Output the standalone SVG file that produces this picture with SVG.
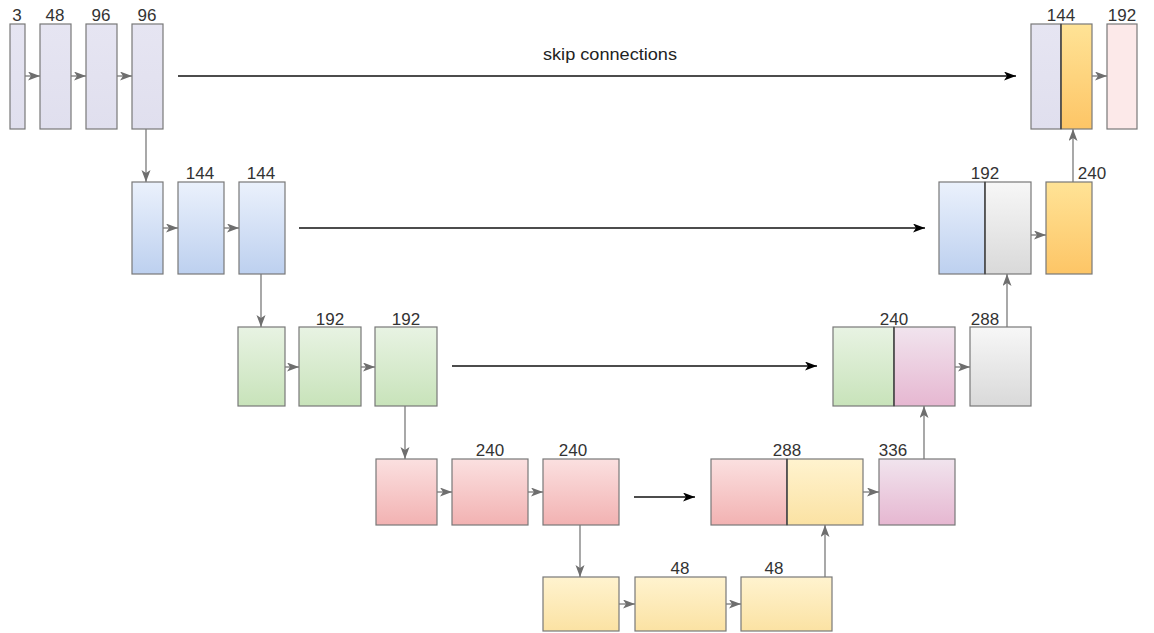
<svg xmlns="http://www.w3.org/2000/svg" width="1154" height="633" viewBox="0 0 1154 633">
  <style>
    .box { stroke: #787878; stroke-width: 1.2; }
    .split { stroke: #333; stroke-width: 1.2; }
    .lbl { font-family: "Liberation Sans", Arial, sans-serif; font-size: 17px; fill: #333; text-anchor: middle; }
    .link { stroke: #7a7a7a; stroke-width: 1.3; fill: none; marker-end: url(#gh); }
    .skip { stroke: #111; stroke-width: 1.3; fill: none; marker-end: url(#bh); }
  </style>
  <defs>
    <marker id="gh" markerUnits="userSpaceOnUse" markerWidth="13" markerHeight="10" refX="12" refY="4.5" orient="auto">
      <path d="M0,0 L12,4.5 L0,9 L3,4.5 z" fill="#6e6e6e"/>
    </marker>
    <marker id="bh" markerUnits="userSpaceOnUse" markerWidth="13" markerHeight="10" refX="12" refY="4.5" orient="auto">
      <path d="M0,0 L12,4.5 L0,9 L3,4.5 z" fill="#000"/>
    </marker>
    <linearGradient id="gLav" x1="0" y1="0" x2="0" y2="1"><stop offset="0" stop-color="#e6e5f2"/><stop offset="1" stop-color="#e0dfee"/></linearGradient>
    <linearGradient id="gBlue" x1="0" y1="0" x2="0" y2="1"><stop offset="0" stop-color="#ebf1fc"/><stop offset="1" stop-color="#bdd0ef"/></linearGradient>
    <linearGradient id="gGreen" x1="0" y1="0" x2="0" y2="1"><stop offset="0" stop-color="#e8f3e3"/><stop offset="1" stop-color="#c8e3ba"/></linearGradient>
    <linearGradient id="gRed" x1="0" y1="0" x2="0" y2="1"><stop offset="0" stop-color="#fbe0e0"/><stop offset="1" stop-color="#f2b2b2"/></linearGradient>
    <linearGradient id="gPink" x1="0" y1="0" x2="0" y2="1"><stop offset="0" stop-color="#f1e4ee"/><stop offset="1" stop-color="#e6b7d1"/></linearGradient>
    <linearGradient id="gGray" x1="0" y1="0" x2="0" y2="1"><stop offset="0" stop-color="#f7f7f7"/><stop offset="1" stop-color="#d9d9d9"/></linearGradient>
    <linearGradient id="gOrange" x1="0" y1="0" x2="0" y2="1"><stop offset="0" stop-color="#ffe396"/><stop offset="1" stop-color="#fdc566"/></linearGradient>
    <linearGradient id="gYellow" x1="0" y1="0" x2="0" y2="1"><stop offset="0" stop-color="#fff3cf"/><stop offset="1" stop-color="#fbe2a3"/></linearGradient>
  </defs>
  <rect width="1154" height="633" fill="#fff"/>

  <!-- encoder level 1 -->
  <g id="a1"><rect class="box" x="10" y="24" width="15" height="105" fill="url(#gLav)"/><text class="lbl" x="17" y="21">3</text></g>
  <g id="a2"><rect class="box" x="40" y="24" width="31" height="105" fill="url(#gLav)"/><text class="lbl" x="55" y="21">48</text></g>
  <g id="a3"><rect class="box" x="86" y="24" width="31" height="105" fill="url(#gLav)"/><text class="lbl" x="101" y="21">96</text></g>
  <g id="a4"><rect class="box" x="132" y="24" width="31" height="105" fill="url(#gLav)"/><text class="lbl" x="147" y="21">96</text></g>

  <!-- encoder level 2 -->
  <g id="b1"><rect class="box" x="132" y="182" width="31" height="92" fill="url(#gBlue)"/></g>
  <g id="b2"><rect class="box" x="178" y="182" width="46" height="92" fill="url(#gBlue)"/><text class="lbl" x="200" y="179">144</text></g>
  <g id="b3"><rect class="box" x="239" y="182" width="46" height="92" fill="url(#gBlue)"/><text class="lbl" x="261" y="179">144</text></g>

  <!-- encoder level 3 -->
  <g id="c1"><rect class="box" x="238" y="327" width="47" height="79" fill="url(#gGreen)"/></g>
  <g id="c2"><rect class="box" x="299" y="327" width="62" height="79" fill="url(#gGreen)"/><text class="lbl" x="330" y="325">192</text></g>
  <g id="c3"><rect class="box" x="375" y="327" width="62" height="79" fill="url(#gGreen)"/><text class="lbl" x="406" y="325">192</text></g>

  <!-- encoder level 4 -->
  <g id="d1"><rect class="box" x="376" y="459" width="61" height="66" fill="url(#gRed)"/></g>
  <g id="d2"><rect class="box" x="452" y="459" width="76" height="66" fill="url(#gRed)"/><text class="lbl" x="490" y="456">240</text></g>
  <g id="d3"><rect class="box" x="543" y="459" width="76" height="66" fill="url(#gRed)"/><text class="lbl" x="573" y="456">240</text></g>

  <!-- bottleneck -->
  <g id="e1"><rect class="box" x="543" y="577" width="76" height="54" fill="url(#gYellow)"/></g>
  <g id="e2"><rect class="box" x="635" y="577" width="91" height="54" fill="url(#gYellow)"/><text class="lbl" x="680" y="574">48</text></g>
  <g id="e3"><rect class="box" x="741" y="577" width="91" height="54" fill="url(#gYellow)"/><text class="lbl" x="774" y="574">48</text></g>

  <!-- decoder level 4 -->
  <g id="f">
    <rect class="box" x="711" y="459" width="76" height="66" fill="url(#gRed)"/>
    <rect class="box" x="787" y="459" width="76" height="66" fill="url(#gYellow)"/>
    <line class="split" x1="787" y1="459" x2="787" y2="525"/>
    <text class="lbl" x="787" y="456">288</text>
  </g>
  <g id="g"><rect class="box" x="879" y="459" width="76" height="66" fill="url(#gPink)"/><text class="lbl" x="893" y="456">336</text></g>

  <!-- decoder level 3 -->
  <g id="h">
    <rect class="box" x="833" y="327" width="61" height="79" fill="url(#gGreen)"/>
    <rect class="box" x="894" y="327" width="61" height="79" fill="url(#gPink)"/>
    <line class="split" x1="894" y1="327" x2="894" y2="406"/>
    <text class="lbl" x="894" y="325">240</text>
  </g>
  <g id="i"><rect class="box" x="970" y="327" width="61" height="79" fill="url(#gGray)"/><text class="lbl" x="985" y="325">288</text></g>

  <!-- decoder level 2 -->
  <g id="j">
    <rect class="box" x="939" y="182" width="46" height="92" fill="url(#gBlue)"/>
    <rect class="box" x="985" y="182" width="46" height="92" fill="url(#gGray)"/>
    <line class="split" x1="985" y1="182" x2="985" y2="274"/>
    <text class="lbl" x="985" y="179">192</text>
  </g>
  <g id="k"><rect class="box" x="1046" y="182" width="46" height="92" fill="url(#gOrange)"/><text class="lbl" x="1092" y="179">240</text></g>

  <!-- decoder level 1 -->
  <g id="l">
    <rect class="box" x="1031" y="24" width="30" height="105" fill="url(#gLav)"/>
    <rect class="box" x="1061" y="24" width="31" height="105" fill="url(#gOrange)"/>
    <line class="split" x1="1061" y1="24" x2="1061" y2="129"/>
    <text class="lbl" x="1061" y="21">144</text>
  </g>
  <g id="m"><rect class="box" x="1107" y="24" width="30" height="105" fill="#fce9e9"/><text class="lbl" x="1122" y="21">192</text></g>

  <!-- connectors -->
  <g id="connectors">
    <line class="link" x1="25" y1="76" x2="40" y2="76"/>
    <line class="link" x1="71" y1="76" x2="86" y2="76"/>
    <line class="link" x1="117" y1="76" x2="132" y2="76"/>
    <line class="link" x1="146" y1="129" x2="146" y2="182"/>

    <line class="link" x1="163" y1="228" x2="178" y2="228"/>
    <line class="link" x1="224" y1="228" x2="239" y2="228"/>
    <line class="link" x1="261" y1="274" x2="261" y2="327"/>

    <line class="link" x1="285" y1="367" x2="299" y2="367"/>
    <line class="link" x1="361" y1="367" x2="375" y2="367"/>
    <line class="link" x1="405" y1="406" x2="405" y2="459"/>

    <line class="link" x1="437" y1="492" x2="452" y2="492"/>
    <line class="link" x1="528" y1="492" x2="543" y2="492"/>
    <line class="link" x1="580" y1="525" x2="580" y2="577"/>

    <line class="link" x1="619" y1="604" x2="635" y2="604"/>
    <line class="link" x1="726" y1="604" x2="741" y2="604"/>
    <line class="link" x1="825" y1="577" x2="825" y2="525"/>

    <line class="link" x1="863" y1="492" x2="879" y2="492"/>
    <line class="link" x1="924" y1="459" x2="924" y2="406"/>

    <line class="link" x1="955" y1="367" x2="970" y2="367"/>
    <line class="link" x1="1007" y1="327" x2="1007" y2="274"/>

    <line class="link" x1="1031" y1="235" x2="1046" y2="235"/>
    <line class="link" x1="1073" y1="182" x2="1073" y2="129"/>

    <line class="link" x1="1092" y1="76" x2="1107" y2="76"/>

    <line class="skip" x1="178" y1="76" x2="1016" y2="76"/>
    <line class="skip" x1="299" y1="228" x2="925" y2="228"/>
    <line class="skip" x1="452" y1="366" x2="817" y2="366"/>
    <line class="skip" x1="634" y1="497" x2="695" y2="497"/>
    <text x="610" y="60" font-family="Liberation Sans, Arial, sans-serif" font-size="16" fill="#222" text-anchor="middle" textLength="134" lengthAdjust="spacingAndGlyphs">skip connections</text>
  </g>
</svg>
